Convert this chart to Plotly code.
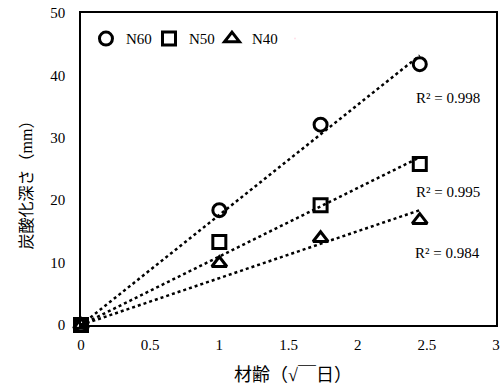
import numpy as np
import plotly.graph_objects as go

x_vals = [0, 1, 1.732, 2.449]
n60 = [0, 18.4, 32.1, 41.8]
n50 = [0, 13.3, 19.2, 25.8]
n40 = [0, 9.9, 13.9, 16.8]
series_names = ["N60", "N50", "N40"]
r2_labels = ["R² = 0.998", "R² = 0.995", "R² = 0.984"]
x_ticks = [0, 0.5, 1, 1.5, 2, 2.5, 3]
y_ticks = [0, 10, 20, 30, 40, 50]
x_title = "材齢（√￣日）"
y_title = "炭酸化深さ（mm）"

FONT = "Liberation Serif, Noto Sans CJK JP"
symbols = ["circle-open", "square-open", "triangle-up-open"]

fig = go.Figure()
xs = np.array(x_vals)
all_series = [n60, n50, n40]
for name, ys, sym in zip(series_names, all_series, symbols):
    ys = np.array(ys)
    slope = float((xs * ys).sum() / (xs * xs).sum())
    xl = np.array([0, xs.max()])
    fig.add_trace(go.Scatter(x=xl, y=slope * xl, mode="lines",
                             line=dict(color="black", width=2.5, dash="dot"),
                             showlegend=False, hoverinfo="skip"))
for name, ys, sym in zip(series_names, all_series, symbols):
    fig.add_trace(go.Scatter(x=x_vals, y=ys, mode="markers", name=name,
                             cliponaxis=False,
                             marker=dict(symbol=sym, size=13, color="black",
                                         line=dict(color="black", width=3))))
# invisible spacer entry so the last legend label is not clipped
fig.add_trace(go.Scatter(x=[None], y=[None], mode="markers", name=" ",
                         marker=dict(opacity=0, size=1), hoverinfo="skip"))

r2_pos = [(2.65, 36.4), (2.65, 21.3), (2.65, 11.6)]
for lab, (ax_, ay_) in zip(r2_labels, r2_pos):
    fig.add_annotation(x=ax_, y=ay_, text=lab, showarrow=False,
                       font=dict(family=FONT, size=15, color="black"))

# axis titles as annotations
fig.add_annotation(xref="paper", yref="paper", x=0, y=0.46, xshift=-55,
                   xanchor="center", yanchor="middle",
                   text=y_title, textangle=-90, showarrow=False,
                   font=dict(family=FONT, size=16, color="black"))
fig.add_annotation(xref="paper", yref="paper", x=0.5, y=0, xshift=4, yshift=-50,
                   xanchor="center", yanchor="middle",
                   text=x_title, showarrow=False,
                   font=dict(family=FONT, size=18, color="black"))

fig.update_layout(
    width=503, height=389,
    margin=dict(l=81, r=7, t=13, b=64),
    paper_bgcolor="white", plot_bgcolor="white",
    font=dict(family=FONT, size=15, color="black"),
    legend=dict(orientation="h", x=0.012, y=0.97, xanchor="left", yanchor="top",
                bgcolor="rgba(0,0,0,0)", font=dict(size=15), itemwidth=30,
                entrywidth=18, tracegroupgap=0),
    xaxis=dict(range=[0, 3], tickvals=x_ticks, ticktext=[str(v) for v in x_ticks],
               showgrid=False, zeroline=False, showline=True, linecolor="black",
               linewidth=1.5, mirror=True, ticks="", ticklen=0, automargin=False,
               ticklabeloverflow="allow", ticklabelstandoff=5),
    yaxis=dict(range=[0, 50], tickvals=y_ticks, showgrid=False, zeroline=False,
               showline=True, linecolor="black", linewidth=1.5, mirror=True,
               ticks="", ticklen=0, automargin=False, ticklabeloverflow="allow",
               ticklabelstandoff=11),
)

fig.write_html("out.html", config={"displayModeBar": False},
               post_script="document.body.style.margin='0';document.body.style.padding='0';")
